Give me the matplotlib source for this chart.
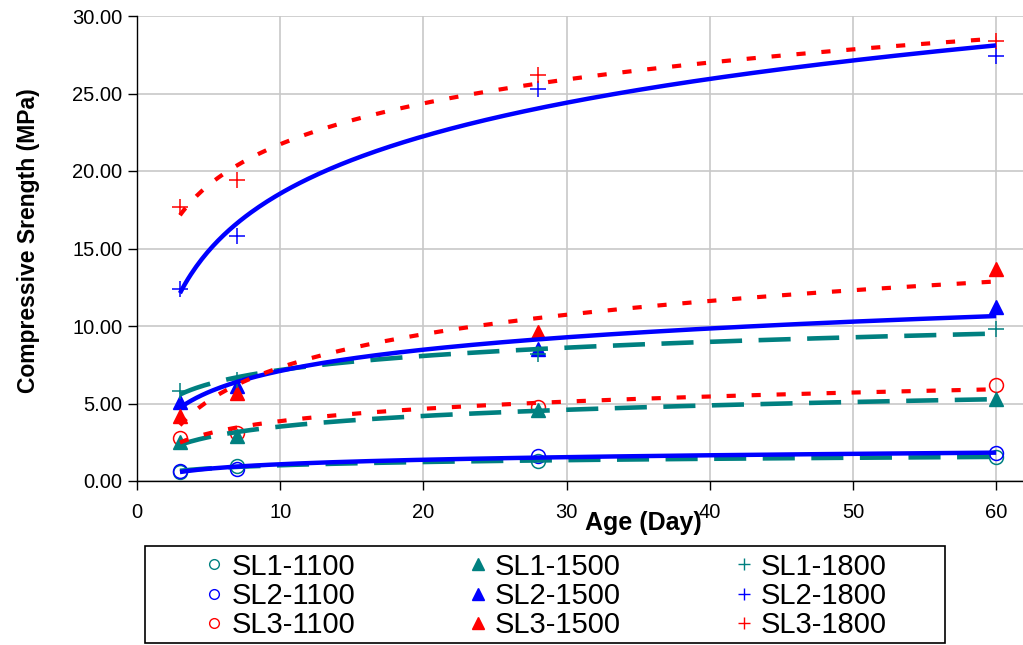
"""Compressive strength vs age with logarithmic trend lines."""

import matplotlib.pyplot as plt
import numpy as np
from matplotlib.lines import Line2D
from matplotlib.patches import Rectangle
from matplotlib.ticker import FormatStrFormatter

plt.rcParams["font.family"] = ["Liberation Sans", "DejaVu Sans"]

# Test ages (days)
age = [3, 7, 28, 60]

# Compressive strength (MPa)
sl1_1100 = [0.6, 1.0, 1.3, 1.55]
sl2_1100 = [0.65, 0.8, 1.6, 1.8]
sl3_1100 = [2.8, 3.1, 4.8, 6.2]
sl1_1500 = [2.5, 2.9, 4.6, 5.3]
sl2_1500 = [5.1, 6.1, 8.5, 11.2]
sl3_1500 = [4.2, 5.7, 9.6, 13.7]
sl1_1800 = [5.8, 6.5, 8.2, 9.8]
sl2_1800 = [12.4, 15.8, 25.3, 27.4]
sl3_1800 = [17.7, 19.4, 26.2, 28.4]

labels = [
    "SL1-1100", "SL2-1100", "SL3-1100",
    "SL1-1500", "SL2-1500", "SL3-1500",
    "SL1-1800", "SL2-1800", "SL3-1800",
]


def main():
    teal, blue, red = "#008080", "#0000ff", "#ff0000"
    colors = {"SL1": teal, "SL2": blue, "SL3": red}
    markers = {"1100": "o", "1500": "^", "1800": "+"}
    # trend line style per slag level
    dashes = {"SL1": (0, (7.0, 3.6)), "SL2": "-", "SL3": (0, (2.2, 3.8))}
    widths = {"SL1": 3.3, "SL2": 3.2, "SL3": 3.0}

    values = [
        sl1_1100, sl2_1100, sl3_1100,
        sl1_1500, sl2_1500, sl3_1500,
        sl1_1800, sl2_1800, sl3_1800,
    ]
    series = dict(zip(labels, values))

    fig = plt.figure(figsize=(10.23, 6.45), dpi=100)
    ax = fig.add_axes([137 / 1023, 164 / 645, 886 / 1023, 465 / 645])

    # points
    for lab in labels:
        sl, temp = lab.split("-")
        mk = markers[temp]
        if mk == "o":
            ax.plot(age, series[lab], ls="none", marker="o", ms=10, mfc="none",
                    mec=colors[sl], mew=1.1, zorder=3)
        elif mk == "^":
            ax.plot(age, series[lab], ls="none", marker="^", ms=10,
                    color=colors[sl], zorder=3)
        else:
            ax.plot(age, series[lab], ls="none", marker="+", ms=11, mew=1.1,
                    color=colors[sl], zorder=3)

    # logarithmic trend lines, fitted to each series
    xs = np.linspace(age[0], age[-1], 300)
    for sl in ["SL1", "SL2", "SL3"]:
        for temp in ["1100", "1500", "1800"]:
            y = series[sl + "-" + temp]
            b, a = np.polyfit(np.log(age), y, 1)
            ax.plot(xs, a + b * np.log(xs), color=colors[sl], lw=widths[sl],
                    ls=dashes[sl], solid_capstyle="butt", dash_capstyle="butt",
                    zorder=4)

    ax.set_xlim(0, 886 / 14.32)
    ax.set_ylim(0, 30)
    ax.set_xticks(np.arange(0, 61, 10))
    ax.set_yticks(np.arange(0, 31, 5))
    ax.yaxis.set_major_formatter(FormatStrFormatter("%.2f"))
    ax.grid(True, color="#c8c8c8", lw=1.2)
    ax.set_axisbelow(True)
    ax.tick_params(direction="out", length=6.5, width=1, labelsize=14.5,
                   color="black")
    ax.tick_params(axis="x", pad=9)
    ax.tick_params(axis="y", pad=4)
    for side in ["top", "right"]:
        ax.spines[side].set_visible(False)
    for side in ["left", "bottom"]:
        ax.spines[side].set_color("black")
        ax.spines[side].set_linewidth(1)

    fig.text(643 / 1023, 1 - 523 / 645, "Age (Day)", ha="center", va="center",
             fontsize=18, fontweight="bold")
    fig.text(29 / 1023, 1 - 241 / 645, "Compressive Srength (MPa)",
             ha="center", va="center", rotation=90, fontsize=16.5,
             fontweight="bold")

    # legend, marker only
    handles = []
    for lab in labels:
        sl, temp = lab.split("-")
        mk = markers[temp]
        if mk == "o":
            h = Line2D([], [], ls="none", marker="o", ms=7, mfc="none",
                       mec=colors[sl], mew=1.0)
        elif mk == "^":
            h = Line2D([], [], ls="none", marker="^", ms=8, color=colors[sl])
        else:
            h = Line2D([], [], ls="none", marker="+", ms=9, mew=1.0,
                       color=colors[sl])
        handles.append(h)

    fig.legend(handles, labels, ncol=3, loc="center",
               bbox_to_anchor=(546 / 1023, 1 - 596 / 645), frameon=False,
               fontsize=21, handlelength=0.6, handletextpad=0.3,
               columnspacing=3.9, labelspacing=0.05, borderpad=0)
    fig.patches.append(Rectangle((145 / 1023, 2 / 645), 800 / 1023, 97 / 645,
                                 transform=fig.transFigure, fill=False,
                                 edgecolor="black", lw=1.2))

    fig.savefig("out.png", dpi=100)


if __name__ == "__main__":
    main()
